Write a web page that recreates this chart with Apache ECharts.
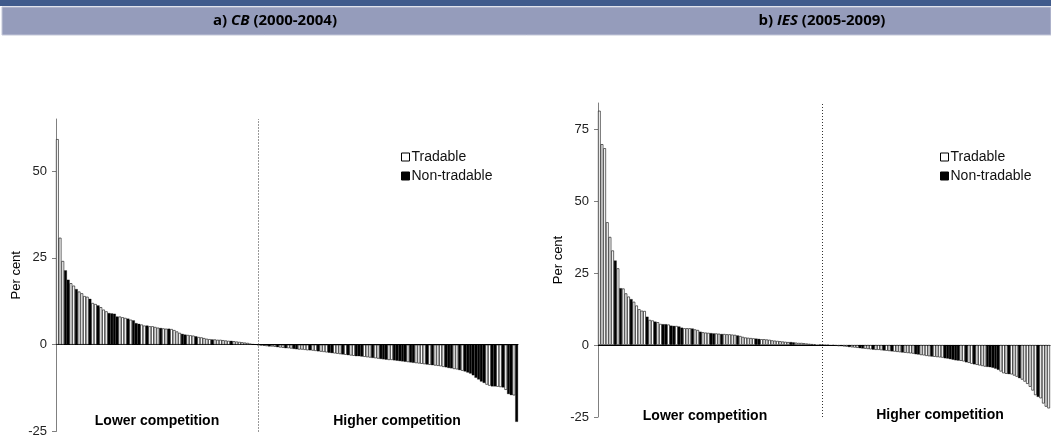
<!DOCTYPE html>
<html>
<head>
<meta charset="utf-8">
<script src="https://cdn.jsdelivr.net/npm/echarts@6/dist/echarts.min.js"></script>
<style>
  html, body { margin: 0; padding: 0; background: #ffffff; }
  #chart { width: 1051px; height: 438px; }
</style>
</head>
<body>
<div id="chart"></div>
<script>
// Sector price gaps (per cent), sorted from largest to smallest, per survey period.
const cbValues = [
  59.2, 30.8, 24.1, 21.4, 18.7, 17.7, 17.0, 16.0, 15.3, 14.8,
  14.0, 13.8, 13.2, 12.0, 11.7, 11.3, 10.8, 10.1, 9.6, 9.1,
  9.0, 8.9, 8.1, 8.1, 7.9, 7.7, 7.5, 7.2, 7.0, 6.2,
  6.0, 5.8, 5.5, 5.5, 5.3, 5.3, 5.1, 4.9, 4.8, 4.7,
  4.6, 4.6, 4.5, 4.2, 3.8, 3.4, 3.1, 2.9, 2.8, 2.7,
  2.6, 2.4, 2.2, 2.1, 1.9, 1.7, 1.6, 1.5, 1.5, 1.4,
  1.4, 1.3, 1.2, 1.1, 1.1, 1.0, 0.9, 0.8, 0.7, 0.6,
  0.5, 0.3, 0.2, 0.1,
  -0.1, -0.2, -0.3, -0.4, -0.5, -0.5, -0.6, -0.7, -0.8, -0.9,
  -1.0, -1.0, -1.1, -1.2, -1.3, -1.4, -1.4, -1.5, -1.6, -1.6,
  -1.7, -1.8, -1.9, -2.0, -2.1, -2.2, -2.3, -2.4, -2.5, -2.6,
  -2.7, -2.8, -2.9, -3.0, -3.1, -3.2, -3.3, -3.3, -3.4, -3.5,
  -3.6, -3.7, -3.8, -3.9, -4.0, -4.1, -4.2, -4.3, -4.4, -4.4,
  -4.5, -4.6, -4.7, -4.8, -4.9, -5.0, -5.1, -5.2, -5.3, -5.4,
  -5.5, -5.6, -5.7, -5.8, -5.9, -6.0, -6.1, -6.2, -6.4, -6.5,
  -6.7, -6.8, -7.0, -7.1, -7.3, -7.5, -7.7, -8.0, -8.3, -8.8,
  -9.5, -10.0, -10.6, -11.0, -11.5, -11.8, -12.0, -12.0, -12.1, -12.2,
  -12.3, -13.0, -14.2, -14.5, -14.6, -22.2
];
// T = tradable sector, N = non-tradable sector (same order as cbValues)
const cbTypes = [
  'TTTNNTTNTT', 'TTNTTNTTTN', 'NNNTTTNTNN', 'NTTNTTTTNT', 'TNTTTTNNTT',
  'TNTTTTTNTT', 'TTTTNTTTTT', 'TTNT',
  'TTTTNTTNTT', 'NTTNNTTTTN', 'TTNTTTNNTT', 'TNTNTTNNNT', 'TTNTTNNNTT',
  'NNNNNTNNTT', 'TTNTNTTTTN', 'NNTTNTNNNN', 'NNNNTTNNTT', 'NTNNTN'
].join('').split('');

const iesValues = [
  81.3, 69.7, 68.3, 42.6, 37.5, 32.8, 29.3, 26.6, 19.7, 19.6,
  17.9, 16.8, 15.9, 15.0, 13.7, 12.4, 11.9, 11.8, 9.8, 8.7,
  8.5, 8.1, 7.9, 7.3, 7.2, 7.2, 7.1, 6.7, 6.6, 6.6,
  6.4, 6.0, 5.8, 5.8, 5.8, 5.7, 5.4, 5.2, 4.6, 4.4,
  4.3, 4.2, 4.1, 4.0, 4.0, 3.9, 3.8, 3.8, 3.7, 3.7,
  3.6, 3.5, 3.3, 3.1, 2.8, 2.6, 2.5, 2.4, 2.3, 2.2,
  2.1, 2.0, 2.0, 1.9, 1.8, 1.6, 1.5, 1.4, 1.3, 1.2,
  1.1, 1.0, 1.0, 0.9, 0.8, 0.7, 0.7, 0.6, 0.5, 0.4,
  0.3, 0.2, 0.1, 0.05,
  -0.05, -0.1, -0.1, -0.2, -0.2, -0.3, -0.4, -0.4, -0.5, -0.6,
  -0.7, -0.8, -0.9, -1.0, -1.1, -1.2, -1.3, -1.4, -1.5, -1.6,
  -1.7, -1.7, -1.8, -1.9, -2.0, -2.1, -2.2, -2.3, -2.4, -2.5,
  -2.6, -2.7, -2.8, -2.9, -3.0, -3.2, -3.3, -3.5, -3.6, -3.8,
  -3.9, -4.0, -4.1, -4.2, -4.3, -4.4, -4.6, -4.7, -4.9, -5.1,
  -5.3, -5.4, -5.5, -5.7, -6.0, -6.2, -6.5, -6.7, -6.9, -7.1,
  -7.3, -7.5, -7.6, -7.7, -7.9, -8.2, -8.6, -9.2, -9.8, -10.0,
  -10.1, -10.2, -10.6, -11.0, -11.5, -12.0, -12.7, -13.5, -14.5, -15.8,
  -17.4, -18.0, -18.5, -20.3, -21.4, -22.0
];
const iesTypes = [
  'TTTTTTNTNT', 'TTNTTTTTNT', 'TNTTNNTNNT', 'NNTTTNTTNT', 'TTNNTTNTTT',
  'TTNTTTTTTN', 'NTTTTTTTTT', 'TTNNTTTTTT', 'NTNT',
  'TTTNTTTNTT', 'NTTTNNTTTN', 'TTTNTTNTTT', 'NTTTTNNTTT', 'TNTTTTNNNN',
  'NNTTNTTNTT', 'TTNNNNNTTT', 'NTTTNTTTTT', 'TNTTTT'
].join('').split('');

const seriesNames = ['Tradable', 'Non-tradable'];
const panelTitles = [
  ['a) ', 'CB', ' (2000-2004)'],
  ['b) ', 'IES', ' (2005-2009)']
];
const zoneLabels = ['Lower competition', 'Higher competition'];
const cbTicks = [-25, 0, 25, 50];
const iesTicks = [-25, 0, 25, 50, 75];

const FONT = '"Liberation Sans", Arial, sans-serif';

function pick(values, types, code) {
  return values.map((v, i) => (types[i] === code ? v : '-'));
}
function firstNegative(values) {
  return values.findIndex(v => v < 0);
}

const chart = echarts.init(document.getElementById('chart'), null, { renderer: 'canvas' });

const grids = [
  { left: 56, top: 119, width: 462, height: 313 },
  { left: 598, top: 103, width: 452, height: 314 }
];

const panels = [
  { values: cbValues, types: cbTypes, ticks: cbTicks, max: 65 },
  { values: iesValues, types: iesTypes, ticks: iesTicks, max: 84 }
];

const xAxes = panels.map((p, k) => ({
  type: 'category',
  gridIndex: k,
  data: p.values.map((_, i) => String(i + 1)),
  boundaryGap: true,
  axisLine: { show: true, onZero: true, lineStyle: { color: '#000', width: 1 } },
  axisTick: { show: false },
  axisLabel: { show: false },
  splitLine: { show: false }
}));

const yAxes = panels.map((p, k) => ({
  type: 'value',
  gridIndex: k,
  min: -25,
  max: p.max,
  interval: 25,
  name: 'Per cent',
  nameLocation: 'middle',
  nameGap: 33,
  nameTextStyle: { fontFamily: FONT, fontSize: 13, color: '#000' },
  axisLine: { show: true, lineStyle: { color: '#808080', width: 1 } },
  axisTick: { show: true, inside: false, length: 4, customValues: p.ticks, lineStyle: { color: '#808080' } },
  axisLabel: { customValues: p.ticks, margin: 9, fontFamily: FONT, fontSize: 13, color: '#222' },
  splitLine: { show: false }
}));

// Tradable bars are hollow outlines, non-tradable bars are solid black
const tradableStyle = { color: '#ffffff', borderColor: '#000000', borderWidth: 0.6 };
const nonTradableStyle = { color: '#000000', borderColor: '#000000', borderWidth: 0.3 };

const series = [];
panels.forEach((p, k) => {
  series.push({
    name: seriesNames[0],
    type: 'bar',
    xAxisIndex: k,
    yAxisIndex: k,
    data: pick(p.values, p.types, 'T'),
    barCategoryGap: '0%',
    barGap: '-100%',
    itemStyle: tradableStyle,
    emphasis: { disabled: true },
    markLine: {
      silent: true,
      symbol: 'none',
      label: { show: false },
      lineStyle: { type: [1, 2], color: '#333', width: 1 },
      data: [{ xAxis: firstNegative(p.values) }]
    }
  });
  series.push({
    name: seriesNames[1],
    type: 'bar',
    xAxisIndex: k,
    yAxisIndex: k,
    data: pick(p.values, p.types, 'N'),
    barCategoryGap: '0%',
    barGap: '-100%',
    itemStyle: nonTradableStyle,
    emphasis: { disabled: true }
  });
});

const legendBase = {
  orient: 'vertical',
  top: 145,
  itemWidth: 8,
  itemHeight: 8,
  itemGap: 5,
  icon: 'rect',
  selectedMode: false,
  textStyle: { fontFamily: FONT, fontSize: 14, color: '#111', padding: [0, 0, 0, -3] },
  data: [
    { name: seriesNames[0], itemStyle: { color: '#fff', borderColor: '#000', borderWidth: 1 } },
    { name: seriesNames[1], itemStyle: { color: '#000', borderColor: '#000', borderWidth: 1 } }
  ]
};

const titleRich = {
  n: { fontFamily: '"Open Sans", sans-serif', fontWeight: 'bold', fontSize: 15, color: '#1d3461' },
  i: { fontFamily: '"Open Sans", sans-serif', fontWeight: 'bold', fontStyle: 'italic', fontSize: 15, color: '#1d3461' }
};
const titleCenters = [275, 822];

const graphic = [
  { type: 'rect', shape: { x: 0, y: 0, width: 1051, height: 6 }, style: { fill: '#405b8c' }, silent: true },
  { type: 'rect', shape: { x: 2, y: 7, width: 1049, height: 28 }, style: { fill: '#959cbb', stroke: '#c3c7d8', lineWidth: 1 }, silent: true }
];
panelTitles.forEach((t, k) => {
  graphic.push({
    type: 'text',
    x: titleCenters[k],
    y: 21,
    silent: true,
    style: {
      text: '{n|' + t[0] + '}{i|' + t[1] + '}{n|' + t[2] + '}',
      rich: titleRich,
      align: 'center',
      verticalAlign: 'middle'
    }
  });
});
const zonePositions = [
  [[157, 421], [397, 421]],
  [[705, 416], [940, 415]]
];
zonePositions.forEach(pair => {
  pair.forEach((pos, j) => {
    graphic.push({
      type: 'text',
      x: pos[0],
      y: pos[1],
      silent: true,
      style: {
        text: zoneLabels[j],
        fontFamily: FONT,
        fontWeight: 'bold',
        fontSize: 14,
        fill: '#000',
        align: 'center',
        verticalAlign: 'middle'
      }
    });
  });
});

chart.setOption({
  animation: false,
  backgroundColor: '#ffffff',
  grid: grids,
  xAxis: xAxes,
  yAxis: yAxes,
  legend: [
    Object.assign({}, legendBase, { left: 396 }),
    Object.assign({}, legendBase, { left: 935 })
  ],
  series: series,
  graphic: graphic
});
</script>
</body>
</html>
